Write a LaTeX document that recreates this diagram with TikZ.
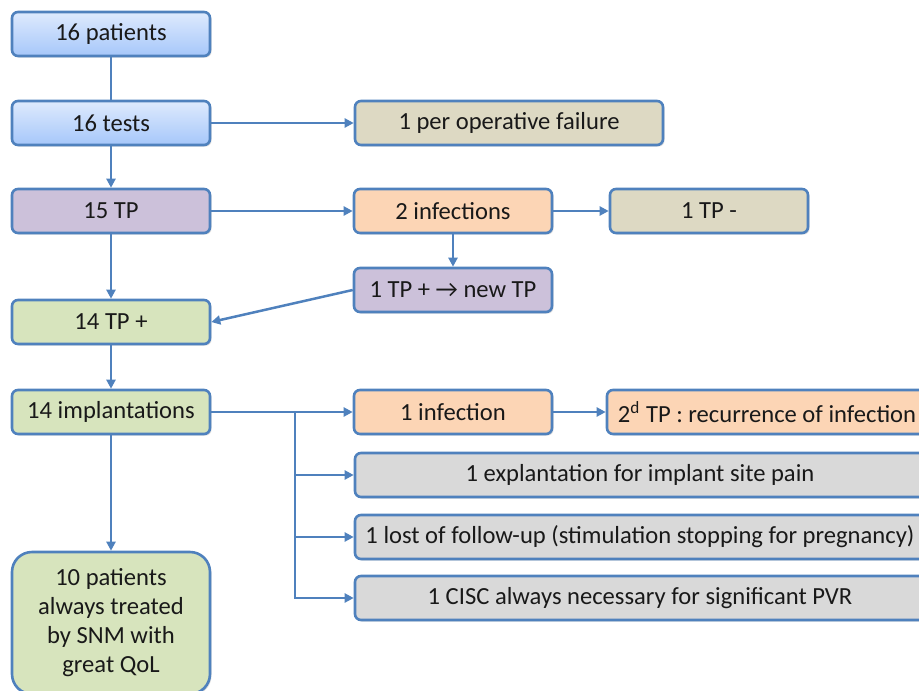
\documentclass[tikz,border=0pt]{standalone}
\usepackage{fontspec}
\setmainfont{Carlito}
\usetikzlibrary{arrows.meta,shadows}

\definecolor{boxline}{RGB}{79,129,189}
\definecolor{bluetop}{RGB}{222,234,253}
\definecolor{bluebot}{RGB}{166,199,250}
\definecolor{lilac}{RGB}{204,193,218}
\definecolor{tan}{RGB}{221,217,195}
\definecolor{peach}{RGB}{252,213,181}
\definecolor{sage}{RGB}{215,228,189}
\definecolor{silver}{RGB}{217,217,217}

\begin{document}
\begin{tikzpicture}[x=0.5pt,y=-0.5pt,font=\fontsize{12.3}{14.5}\selectfont]

% size of each box
\def\bw{99pt}
\def\bh{22pt}
% node style definition
\tikzstyle{box} = [
	draw=boxline, line width=1.3pt, rounded corners=3pt, text=black!90,
	minimum width=\bw, minimum height=\bh, inner sep=0pt,
	drop shadow={shadow xshift=0.8pt, shadow yshift=-0.8pt, opacity=0.25} ];
\tikzstyle{bluebox} = [box, top color=bluetop, bottom color=bluebot];
\tikzstyle{lilacbox} = [box, fill=lilac];
\tikzstyle{tanbox} = [box, fill=tan];
\tikzstyle{peachbox} = [box, fill=peach];
\tikzstyle{greenbox} = [box, fill=sage];
\tikzstyle{greybox} = [box, fill=silver, minimum width=285pt];
\tikzstyle{link} = [draw=boxline, line width=1.25pt];
\tikzstyle{arrow} = [link, -{Triangle[length=4.5pt,width=4.5pt]}];

\clip (0,0) rectangle (919,690);

\node[bluebox] (pat) at (111,34) {16 patients};
\node[bluebox] (tst) at (111,123) {16 tests};
\node[tanbox, minimum width=154pt] (fail) at (509,123) {1 per operative failure};

\node[lilacbox] (tp) at (111,211) {15 TP};
\node[peachbox] (inf2) at (453,211) {2 infections};
\node[tanbox] (tpneg) at (709,211) {1 TP -};
\node[lilacbox] (newtp) at (453,290) {1 TP + → new TP};

\node[greenbox] (tppos) at (111,322) {14 TP +};
\node[greenbox] (impl) at (111,412) {14 implantations};
\node[peachbox] (inf1) at (453,412) {1 infection};
\node[peachbox, minimum width=160pt] (tp2) at (767,412) {2\textsuperscript{d} TP : recurrence of infection};

\node[greybox] (expl) at (640,475) {1 explantation for implant site pain};
\node[greybox] (lost) at (640,537) {1 lost of follow-up (stimulation stopping for pregnancy)};
\node[greybox] (cisc) at (640,598) {1 CISC always necessary for significant PVR};

\node[greenbox, rounded corners=10pt, minimum height=71pt, align=center] (qol) at (111,623)
	{10 patients\\always treated\\by SNM with\\great QoL};

\coordinate (br) at (295,412);

\draw[link] (pat) -- (tst);
\draw[arrow] (tst) -- (tp);
\draw[arrow] (tst) -- (fail);
\draw[arrow] (tp) -- (inf2);
\draw[arrow] (inf2) -- (tpneg);
\draw[arrow] (inf2) -- (newtp);
\draw[arrow] (tp) -- (tppos);
\draw[arrow] (newtp.west) -- (tppos.east);
\draw[arrow] (tppos) -- (impl);
\draw[arrow] (impl) -- (inf1);
\draw[arrow] (inf1) -- (tp2);
\draw[arrow] (impl) -- (qol);

\draw[arrow] (br) |- (expl.west);
\draw[arrow] (br) |- (lost.west);
\draw[arrow] (br) |- (cisc.west);

\end{tikzpicture}
\end{document}
